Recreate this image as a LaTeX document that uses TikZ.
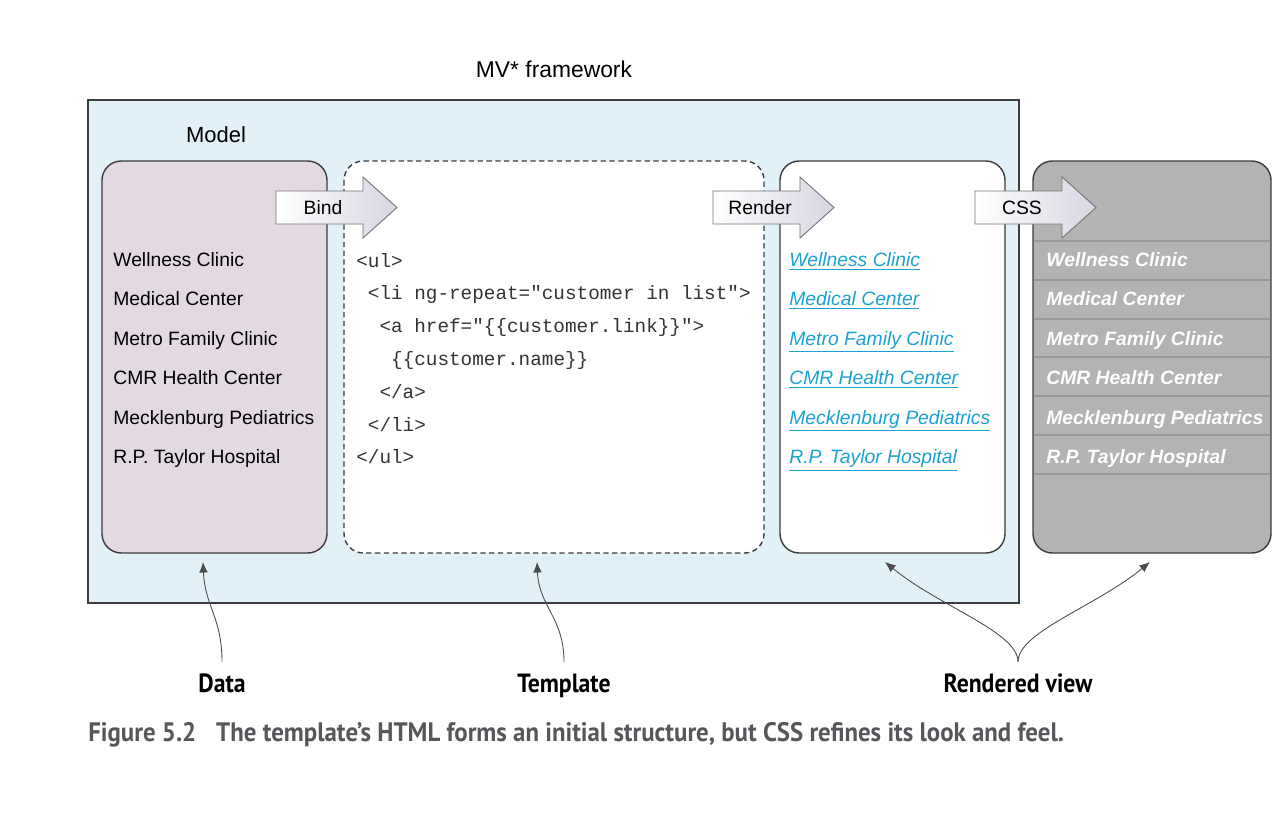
\documentclass[tikz,border=0pt]{standalone}
\usepackage{fontspec}
\setmainfont{Liberation Sans}
\setmonofont{Liberation Mono}
\newfontfamily\notefont[FakeStretch=0.9]{PT Sans}
\newfontfamily\capfont[FakeStretch=0.93]{PT Sans}
\usetikzlibrary{arrows.meta}

\definecolor{frameblue}{HTML}{E2F1F7}
\definecolor{modelpink}{HTML}{E3D9E3}
\definecolor{linkblue}{HTML}{1BA1D2}
\definecolor{cssgray}{HTML}{B3B3B3}
\definecolor{rowgray}{HTML}{989898}
\definecolor{edgegray}{HTML}{3C3C3C}
\definecolor{captiongray}{HTML}{56575A}
\definecolor{arrowend}{HTML}{D6D6E2}

\tikzset{
  box/.style={draw=edgegray, line width=0.8pt, rounded corners=11pt},
  item/.style={inner sep=0pt, font=\fontsize{11}{13}\selectfont},
  link/.style={item, text=linkblue, font=\fontsize{11}{13}\selectfont\itshape},
  styled/.style={item, text=white, font=\fontsize{11}{13}\selectfont\bfseries\itshape},
  code/.style={inner sep=0pt, font=\fontsize{11}{13}\selectfont\ttfamily, text=black!80},
  bigarrow/.style={draw=black!55, line width=0.5pt, left color=white, right color=arrowend},
  note/.style={inner sep=0pt, font=\fontsize{15}{17}\selectfont\notefont\bfseries},
  pointer/.style={draw=black!70, line width=0.5pt, -{Latex[length=6pt,width=5pt]}},
}

\begin{document}
\begin{tikzpicture}[x=0.02cm, y=-0.02cm]
  \useasboundingbox (0,0) rectangle (1280,832);

  % framework
  \draw[fill=frameblue, draw=edgegray, line width=0.8pt] (88,100) rectangle (1019,603);
  \node[item, font=\fontsize{13}{15}\selectfont] (mvtitle) at (554,69) {MV* framework};
  \node[item, font=\fontsize{12.5}{15}\selectfont] (modeltitle) at (216,135) {Model};

  % the four panels
  \draw[box, fill=modelpink] (102,161) rectangle (327,553);
  \draw[box, fill=white, dashed, dash pattern=on 3pt off 2pt] (344,161) rectangle (764,553);
  \draw[box, fill=white] (780,161) rectangle (1005,553);
  \draw[box, fill=cssgray] (1033,161) rectangle (1271,553);
  \foreach \y in {241,280,319,357,396,435,474}
    \draw[rowgray, line width=0.7pt] (1034,\y) -- (1270,\y);

  % lists
  \foreach \name [count=\i] in {Wellness Clinic, Medical Center, Metro Family Clinic,
      CMR Health Center, Mecklenburg Pediatrics, R.P. Taylor Hospital} {
    \node[item, anchor=base west] (data\i) at (113, 227+39.4*\i) {\name};
    \node[link, anchor=base west] (view\i) at (789, 227+39.4*\i) {\underline{\name}};
    \node[styled, anchor=base west] (css\i) at (1046, 227+39.4*\i) {\name};
  }

  % template code
  \foreach \ind/\line [count=\i] in {0/{<ul>}, 1/{<li ng-repeat="customer in list">},
      2/{<a href="\{\{customer.link\}\}">}, 3/{\{\{customer.name\}\}},
      2/{</a>}, 1/{</li>}, 0/{</ul>}}
    \node[code, anchor=base west] (code\i) at (356+11.6*\ind, 234.2+32.8*\i) {\line};

  % step arrows
  \foreach \ax/\lbl in {276/Bind, 713/Render, 975/CSS} {
    \draw[bigarrow] (\ax,191) -- ++(87,0) -- ++(0,-14) -- ++(34,30.5)
      -- ++(-34,30.5) -- ++(0,-14) -- ++(-87,0) -- cycle;
    \node[item] (\lbl) at (\ax+47,208) {\lbl};
  }

  % annotations
  \coordinate (datatip) at (203,562);
  \coordinate (templatetip) at (537,562);
  \coordinate (viewtip) at (885,562);
  \coordinate (csstip) at (1150,562);
  \node[note, anchor=base] (datanote) at (222,692) {Data};
  \node[note, anchor=base] (templatenote) at (564,692) {Template};
  \node[note, anchor=base] (viewnote) at (1018,692) {Rendered view};
  \draw[pointer] (datanote.north) ++(0,-11) .. controls +(0,-45) and +(2,45) .. (datatip);
  \draw[pointer] (templatenote.north) ++(0,-11) .. controls +(0,-45) and +(2,45) .. (templatetip);
  \draw[pointer] (viewnote.north) ++(0,-11) .. controls +(0,-30) and +(55,45) .. (viewtip);
  \draw[pointer] (viewnote.north) ++(0,-11) .. controls +(0,-30) and +(-55,45) .. (csstip);

  % caption
  \node[inner sep=0pt, anchor=base west, text=captiongray,
    font=\fontsize{15.2}{18}\selectfont\capfont\bfseries] (caption) at (88,741)
    {Figure 5.2\hspace{0.75em}The template’s HTML forms an initial structure, but CSS refines its look and feel.};
\end{tikzpicture}
\end{document}
